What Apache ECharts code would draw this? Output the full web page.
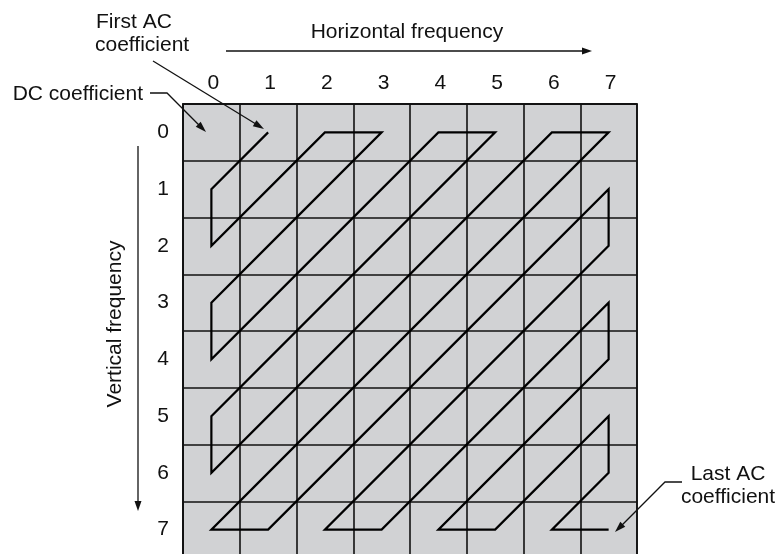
<!DOCTYPE html>
<html><head><meta charset="utf-8">
<script src="https://cdn.jsdelivr.net/npm/echarts@6/dist/echarts.min.js"></script>
<style>html,body{margin:0;padding:0;background:#fff;overflow:hidden}#c{width:777px;height:564px}</style>
</head><body><div id="c"></div>
<script>
// Tick labels
const colLabels = ['0','1','2','3','4','5','6','7'];
const rowLabels = ['0','1','2','3','4','5','6','7'];
// Zigzag scan order (column index, row index), from the first AC coefficient to the last
const zigCol = [1,0, 0,1,2, 3,2,1,0, 0,1,2,3,4, 5,4,3,2,1,0, 0,1,2,3,4,5,6, 7,6,5,4,3,2,1,0, 1,2,3,4,5,6,7, 7,6,5,4,3,2, 3,4,5,6,7, 7,6,5,4, 5,6,7, 7,6, 7];
const zigRow = [0,1, 2,1,0, 0,1,2,3, 4,3,2,1,0, 0,1,2,3,4,5, 6,5,4,3,2,1,0, 0,1,2,3,4,5,6,7, 7,6,5,4,3,2,1, 2,3,4,5,6,7, 7,6,5,4,3, 4,5,6,7, 7,6,5, 6,7, 7];

const FONT = '"Liberation Sans", Arial, Helvetica, sans-serif';
const INK = '#111';
const FS = 21;

function txt(text, x, y, align, rot) {
  return { type: 'text', x: x, y: y, rotation: rot || 0,
    style: { text: text, fontSize: FS, fontFamily: FONT, fill: INK, align: align || 'center', verticalAlign: 'middle' } };
}
function arrow(pts, width, headLen, headW) {
  const n = pts.length;
  const [x1, y1] = pts[n - 2], [x2, y2] = pts[n - 1];
  const dx = x2 - x1, dy = y2 - y1, L = Math.hypot(dx, dy);
  const ux = dx / L, uy = dy / L, px = -uy, py = ux;
  const bx = x2 - ux * headLen, by = y2 - uy * headLen;
  const linePts = pts.slice(0, n - 1).concat([[bx + ux * 1, by + uy * 1]]);
  return [
    { type: 'polyline', shape: { points: linePts }, style: { stroke: INK, lineWidth: width, fill: null } },
    { type: 'polygon', shape: { points: [[x2, y2], [bx + px * headW / 2, by + py * headW / 2], [bx - px * headW / 2, by - py * headW / 2]] },
      style: { fill: INK, stroke: null } }
  ];
}

const chart = echarts.init(document.getElementById('c'), null, { renderer: 'canvas' });
const lineCol = '#111';
chart.setOption({
  animation: false,
  backgroundColor: '#fff',
  textStyle: { fontFamily: FONT },
  grid: { left: 183, top: 104, width: 454, height: 454, show: true, backgroundColor: '#d1d2d4', borderColor: lineCol, borderWidth: 1.6 },
  xAxis: {
    type: 'category', data: colLabels, position: 'top', boundaryGap: true,
    axisLine: { show: true, lineStyle: { color: lineCol, width: 1.6 } },
    axisTick: { show: false },
    axisLabel: { fontSize: FS, color: INK, margin: 10, fontFamily: FONT, padding: [0, 0, 0, 4] },
    splitLine: { show: true, lineStyle: { color: lineCol, width: 1.6 } }
  },
  yAxis: {
    type: 'category', data: rowLabels, inverse: true, boundaryGap: true,
    axisLine: { show: true, lineStyle: { color: lineCol, width: 1.6 } },
    axisTick: { show: false },
    axisLabel: { fontSize: FS, color: INK, margin: 14, fontFamily: FONT, padding: [7, 0, 0, 0] },
    splitLine: { show: true, lineStyle: { color: lineCol, width: 1.6 } }
  },
  series: [{
    type: 'line', symbol: 'none', silent: true,
    lineStyle: { color: '#000', width: 2.2, join: 'miter' },
    data: zigCol.map((c, i) => [c, zigRow[i]])
  }],
  graphic: [
    txt('Horizontal frequency', 407, 32),
    ...arrow([[226, 51], [592, 51]], 1.3, 10, 7),
    txt('Vertical frequency', 115, 324, 'center', Math.PI / 2),
    ...arrow([[138, 146], [138, 511]], 1.3, 10, 7),
    txt('First AC', 96, 22, 'left'),
    txt('coefficient', 95, 45, 'left'),
    ...arrow([[153, 61], [264, 129]], 1.3, 11, 7),
    txt('DC coefficient', 143, 94, 'right'),
    ...arrow([[150, 93], [167, 93], [206, 132]], 1.3, 11, 7),
    txt('Last AC', 728, 474),
    txt('coefficient', 728, 497),
    ...arrow([[682, 482], [665, 482], [615, 532]], 1.3, 11, 7)
  ]
});
</script></body></html>
